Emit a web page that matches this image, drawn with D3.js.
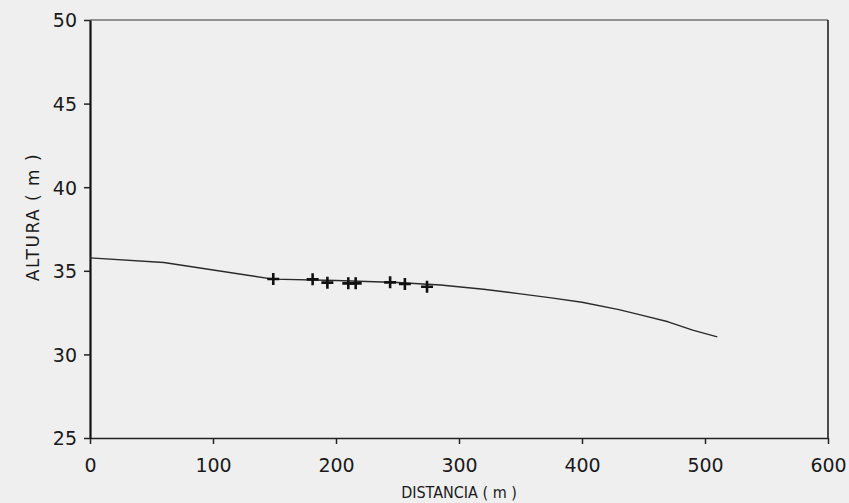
<!DOCTYPE html>
<html>
<head>
<meta charset="utf-8">
<script src="https://cdn.jsdelivr.net/npm/d3@7"></script>
<style>
  html, body { margin: 0; padding: 0; background: #efefef; }
  svg { display: block; }
  .tick-label { font-family: "DejaVu Sans", sans-serif; font-size: 19px; fill: #1a1a1a; }
  .axis-title { font-family: "DejaVu Sans", sans-serif; font-stretch: condensed; font-size: 16px; fill: #1a1a1a; }
</style>
</head>
<body>
<div id="chart"></div>
<script>
// Water surface profile (distance m, height m)
const profileX = [0, 60, 149, 200, 250, 285, 320, 350, 375, 400, 430, 450, 470, 490, 510];
const profileY = [35.77, 35.5, 34.5, 34.42, 34.3, 34.15, 33.9, 33.62, 33.38, 33.12, 32.68, 32.32, 31.95, 31.45, 31.05];

// Measured points (+)
const obsX = [149, 181, 193, 210, 216, 244, 256, 274];
const obsY = [34.51, 34.49, 34.29, 34.25, 34.25, 34.31, 34.21, 34.05];

const xTicks = [0, 100, 200, 300, 400, 500, 600];
const yTicks = [25, 30, 35, 40, 45, 50];

const width = 849, height = 503;
const margin = { left: 90, right: 828, top: 20, bottom: 438 };

const svg = d3.select('#chart').append('svg')
    .attr('width', width)
    .attr('height', height);

svg.append('rect')
    .attr('width', width)
    .attr('height', height)
    .attr('fill', '#efefef');

const x = d3.scaleLinear().domain([0, 600]).range([margin.left, margin.right]);
const y = d3.scaleLinear().domain([25, 50]).range([margin.bottom, margin.top]);

// Frame
svg.append('line')
    .attr('x1', margin.left).attr('x2', margin.right)
    .attr('y1', margin.top).attr('y2', margin.top)
    .attr('stroke', '#333').attr('stroke-width', 1.2);
svg.append('line')
    .attr('x1', margin.right).attr('x2', margin.right)
    .attr('y1', margin.top).attr('y2', margin.bottom)
    .attr('stroke', '#222').attr('stroke-width', 1.6);

// Axes
const xAxis = d3.axisBottom(x).tickValues(xTicks).tickSize(6).tickSizeOuter(0).tickFormat(d3.format('d'));
const yAxis = d3.axisLeft(y).tickValues(yTicks).tickSize(6).tickSizeOuter(0).tickFormat(d3.format('d'));

const gx = svg.append('g').attr('transform', `translate(0,${margin.bottom})`).call(xAxis);
const gy = svg.append('g').attr('transform', `translate(${margin.left},0)`).call(yAxis);

gx.select('.domain').attr('stroke', '#222').attr('stroke-width', 1.6);
gy.select('.domain').attr('stroke', '#111').attr('stroke-width', 2.2);
[gx, gy].forEach(g => {
    g.attr('font-size', null).attr('font-family', null);
    g.selectAll('.tick line').attr('stroke', '#222').attr('stroke-width', 1.5);
    g.selectAll('.tick text').attr('class', 'tick-label').attr('fill', null);
});
gx.selectAll('.tick text').attr('dy', null).attr('y', 34);
gy.selectAll('.tick text').attr('x', -13).attr('dy', '0.36em');

// Axis titles
svg.append('text')
    .attr('class', 'axis-title')
    .attr('x', x(300))
    .attr('y', 498)
    .attr('text-anchor', 'middle')
    .text('DISTANCIA ( m )');

svg.append('text')
    .attr('class', 'axis-title')
    .attr('transform', `translate(39,217) rotate(-90)`)
    .attr('text-anchor', 'middle')
    .style('font-size', '17px')
    .style('font-stretch', 'normal')
    .style('letter-spacing', '1.5px')
    .text('ALTURA ( m )');

// Profile line
const line = d3.line()
    .x((d, i) => x(profileX[i]))
    .y(d => y(d));

svg.append('path')
    .datum(profileY)
    .attr('d', line)
    .attr('fill', 'none')
    .attr('stroke', '#2a2a2a')
    .attr('stroke-width', 1.4)
    .attr('stroke-linejoin', 'round');

// Observed points as plus markers
svg.append('g').selectAll('path')
    .data(obsY)
    .enter()
    .append('path')
    .attr('d', (d, i) => {
        const cx = x(obsX[i]), cy = y(d), s = 6;
        return `M${cx - s},${cy}H${cx + s}M${cx},${cy - s}V${cy + s}`;
    })
    .attr('stroke', '#111')
    .attr('stroke-width', 2.6)
    .attr('fill', 'none');
</script>
</body>
</html>
